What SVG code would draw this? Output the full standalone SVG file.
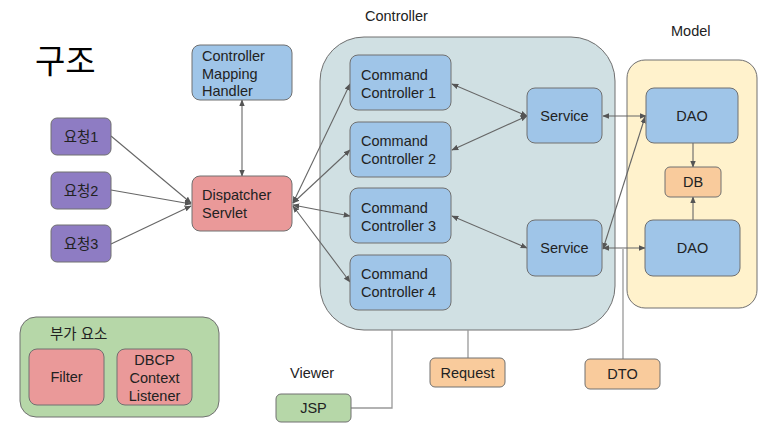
<svg xmlns="http://www.w3.org/2000/svg" width="773" height="434" viewBox="0 0 773 434">
<style>
text{font-family:"Liberation Sans","Noto Sans CJK KR",Arial,sans-serif;font-size:14.5px;fill:#222}
.c{text-anchor:middle}
.n{stroke:#707070;stroke-width:1}
.blue{fill:#9fc5e8}.purple{fill:#8e7cc3}.red{fill:#ea9999}.green{fill:#b6d7a8}.orange{fill:#f9cb9c}
.e{stroke:#666;stroke-width:1.1;fill:none}
.g{stroke:#999;stroke-width:1.3;fill:none}
</style>
<defs>
<marker id="a" viewBox="0 0 10 10" refX="9" refY="5" markerWidth="7" markerHeight="7" orient="auto-start-reverse" markerUnits="userSpaceOnUse">
<path d="M0,1 L10,5 L0,9 z" fill="#555"/>
</marker>
</defs>
<rect width="773" height="434" fill="#fff"/>
<text x="35" y="73" style="font-size:33px;fill:#000">구조</text>
<text x="365" y="21">Controller</text>
<text x="671" y="36">Model</text>
<text x="290" y="378">Viewer</text>

<g id="controller-group"><rect class="n" x="320" y="37" width="295" height="293" rx="44" fill="#d0e0e3"/></g>
<g id="model-group"><rect class="n" x="627" y="60" width="130" height="248" rx="18" fill="#fff2cc"/></g>
<g id="extra-group"><rect class="n green" x="20" y="317" width="199" height="100" rx="16"/><text x="50" y="339">부가 요소</text></g>

<g id="connectors">
<line class="e" x1="242" y1="100" x2="242" y2="176" marker-start="url(#a)" marker-end="url(#a)"/>
<line class="e" x1="111" y1="136" x2="191" y2="203" marker-end="url(#a)"/>
<line class="e" x1="111" y1="190" x2="191" y2="204" marker-end="url(#a)"/>
<line class="e" x1="111" y1="244" x2="191" y2="206" marker-end="url(#a)"/>
<line class="e" x1="293" y1="203" x2="350" y2="84" marker-start="url(#a)" marker-end="url(#a)"/>
<line class="e" x1="293" y1="203" x2="350" y2="150" marker-start="url(#a)" marker-end="url(#a)"/>
<line class="e" x1="293" y1="205" x2="350" y2="216" marker-start="url(#a)" marker-end="url(#a)"/>
<line class="e" x1="293" y1="206" x2="350" y2="282" marker-start="url(#a)" marker-end="url(#a)"/>
<line class="e" x1="452" y1="84" x2="527" y2="116" marker-start="url(#a)" marker-end="url(#a)"/>
<line class="e" x1="452" y1="150" x2="527" y2="116" marker-start="url(#a)" marker-end="url(#a)"/>
<line class="e" x1="452" y1="216" x2="527" y2="248" marker-start="url(#a)" marker-end="url(#a)"/>
<line class="e" x1="603" y1="116" x2="646" y2="116" marker-start="url(#a)" marker-end="url(#a)"/>
<line class="e" x1="603" y1="248" x2="645" y2="248" marker-start="url(#a)" marker-end="url(#a)"/>
<line class="e" x1="603" y1="249" x2="645" y2="117" marker-start="url(#a)" marker-end="url(#a)"/>
<line class="e" x1="693" y1="143" x2="693" y2="167" marker-end="url(#a)"/>
<line class="e" x1="693" y1="220" x2="693" y2="197" marker-end="url(#a)"/>
<polyline class="g" points="623,359 623,249"/>
<polyline class="g" points="468,358 468,330"/>
<polyline class="g" points="351,408 392,408 392,330"/>
</g>

<g id="cmh"><rect class="n blue" x="192" y="45" width="100" height="55" rx="8"/><text x="202" y="61">Controller</text><text x="202" y="79">Mapping</text><text x="202" y="96">Handler</text></g>
<g id="req1"><rect class="n purple" x="51" y="118" width="60" height="37" rx="6"/><text class="c" x="81" y="142">요청1</text></g>
<g id="req2"><rect class="n purple" x="51" y="172" width="60" height="37" rx="6"/><text class="c" x="81" y="196">요청2</text></g>
<g id="req3"><rect class="n purple" x="51" y="225" width="60" height="37" rx="6"/><text class="c" x="81" y="249">요청3</text></g>
<g id="dispatcher"><rect class="n red" x="192" y="176" width="100" height="55" rx="8"/><text x="202" y="200">Dispatcher</text><text x="202" y="218">Servlet</text></g>
<g id="cc1"><rect class="n blue" x="350" y="55" width="101" height="55" rx="8"/><text x="361" y="80">Command</text><text x="361" y="98">Controller 1</text></g>
<g id="cc2"><rect class="n blue" x="350" y="122" width="101" height="55" rx="8"/><text x="361" y="146">Command</text><text x="361" y="164">Controller 2</text></g>
<g id="cc3"><rect class="n blue" x="350" y="188" width="101" height="55" rx="8"/><text x="361" y="213">Command</text><text x="361" y="231">Controller 3</text></g>
<g id="cc4"><rect class="n blue" x="350" y="255" width="101" height="55" rx="8"/><text x="361" y="279">Command</text><text x="361" y="297">Controller 4</text></g>
<g id="service1"><rect class="n blue" x="527" y="88" width="75" height="55" rx="8"/><text class="c" x="564.5" y="121">Service</text></g>
<g id="service2"><rect class="n blue" x="527" y="220" width="75" height="56" rx="8"/><text class="c" x="564.5" y="253">Service</text></g>
<g id="dao1"><rect class="n blue" x="646" y="88" width="92" height="55" rx="8"/><text class="c" x="692" y="121">DAO</text></g>
<g id="db"><rect class="n orange" x="665" y="167" width="56" height="30" rx="5"/><text class="c" x="693" y="187">DB</text></g>
<g id="dao2"><rect class="n blue" x="645" y="220" width="95" height="56" rx="8"/><text class="c" x="692.5" y="253">DAO</text></g>
<g id="request"><rect class="n orange" x="430" y="358" width="75" height="29" rx="5"/><text class="c" x="467.5" y="378">Request</text></g>
<g id="dto"><rect class="n orange" x="585" y="359" width="75" height="30" rx="5"/><text class="c" x="622.5" y="379">DTO</text></g>
<g id="jsp"><rect class="n green" x="276" y="394" width="75" height="28" rx="5"/><text class="c" x="313.5" y="413">JSP</text></g>
<g id="filter"><rect class="n red" x="29" y="349" width="75" height="56" rx="8"/><text class="c" x="66.5" y="382">Filter</text></g>
<g id="dbcp"><rect class="n red" x="117" y="349" width="75" height="56" rx="8"/><text class="c" x="154.5" y="365">DBCP</text><text class="c" x="154.5" y="383">Context</text><text class="c" x="154.5" y="401">Listener</text></g>
</svg>
